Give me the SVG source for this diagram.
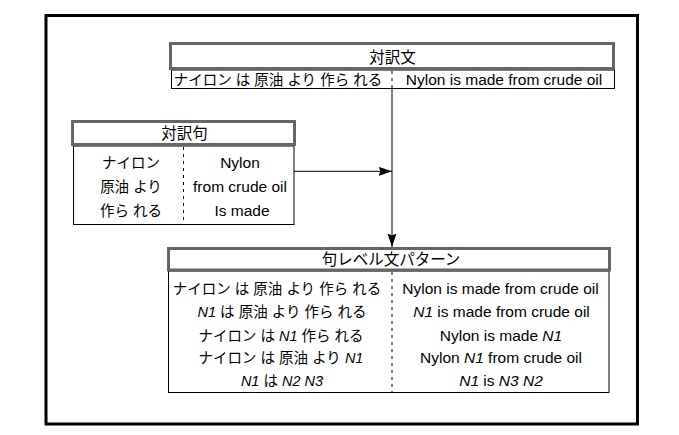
<svg xmlns="http://www.w3.org/2000/svg" width="679" height="435" viewBox="0 0 679 435">
<defs>
<style>
.t{font-family:"Liberation Sans","Noto Sans CJK JP",sans-serif;font-size:14.5px;fill:#000;text-anchor:middle}
.en{font-size:15.5px}
.h{font-size:15.5px}
.hd{fill:#fff;stroke:#666;stroke-width:3}
.bd{fill:#fff;stroke:#000;stroke-width:1}
.dv{stroke:#000;stroke-width:1;stroke-dasharray:3,4}
.ln{stroke:#000;stroke-width:1;fill:none}
.i{font-style:italic}
</style>
<marker id="ah" markerWidth="14" markerHeight="10" refX="13.5" refY="4.5" orient="auto" markerUnits="userSpaceOnUse">
<path d="M0,0 L13.5,4.5 L0,9 L2,4.5 Z" fill="#000"/>
</marker>
</defs>
<rect x="46" y="15.5" width="591.5" height="408.5" fill="#fff" stroke="#000" stroke-width="3"/>
<g id="connectors">
<line class="ln" x1="392" y1="88.5" x2="392" y2="247" marker-end="url(#ah)"/>
<line class="ln" x1="294" y1="171.3" x2="392" y2="171.3" marker-end="url(#ah)"/>
</g>
<g id="node-taiyakubun">
<rect class="bd" x="171.5" y="70" width="443" height="18.5"/>
<rect class="hd" x="170.5" y="43.5" width="443" height="25"/>
<text class="t h" x="392.5" y="62.5">対訳文</text>
<line class="dv" x1="392" y1="71" x2="392" y2="88"/>
<text class="t" x="278" y="85">ナイロン は 原油 より 作ら れる</text>
<text class="t en" x="504" y="85">Nylon is made from crude oil</text>
</g>
<g id="node-taiyakuku">
<rect class="bd" x="73.5" y="146" width="220.5" height="78.5"/>
<rect class="hd" x="72.5" y="121.5" width="222" height="23"/>
<text class="t h" x="184.5" y="139">対訳句</text>
<line class="dv" x1="183.5" y1="147" x2="183.5" y2="224"/>
<text class="t" x="131" y="167.5">ナイロン</text>
<text class="t" x="131" y="191.5">原油 より</text>
<text class="t" x="131" y="215.5">作ら れる</text>
<text class="t en" x="240" y="167.5">Nylon</text>
<text class="t en" x="240" y="191.5">from crude oil</text>
<text class="t en" x="242" y="215.5">Is made</text>
</g>
<g id="node-pattern">
<rect class="bd" x="168.5" y="271" width="440.5" height="121.5"/>
<rect class="hd" x="168.5" y="248.5" width="441" height="21.5"/>
<text class="t h" x="391" y="265">句レベル文パターン</text>
<line class="dv" x1="392" y1="272" x2="392" y2="392"/>
<text class="t" x="277" y="294">ナイロン は 原油 より 作ら れる</text>
<text class="t" x="282" y="317"><tspan class="i">N1</tspan> は 原油 より 作ら れる</text>
<text class="t" x="281" y="340.5">ナイロン は <tspan class="i">N1</tspan> 作ら れる</text>
<text class="t" x="281" y="363">ナイロン は 原油 より <tspan class="i">N1</tspan></text>
<text class="t" x="282" y="385.5"><tspan class="i">N1</tspan> は <tspan class="i">N2</tspan> <tspan class="i">N3</tspan></text>
<text class="t en" x="500.5" y="294">Nylon is made from crude oil</text>
<text class="t en" x="501.5" y="317"><tspan class="i">N1</tspan> is made from crude oil</text>
<text class="t en" x="501" y="340.5">Nylon is made <tspan class="i">N1</tspan></text>
<text class="t en" x="501" y="363">Nylon <tspan class="i">N1</tspan> from crude oil</text>
<text class="t en" x="501" y="385.5"><tspan class="i">N1</tspan> is <tspan class="i">N3</tspan> <tspan class="i">N2</tspan></text>
</g>
</svg>
